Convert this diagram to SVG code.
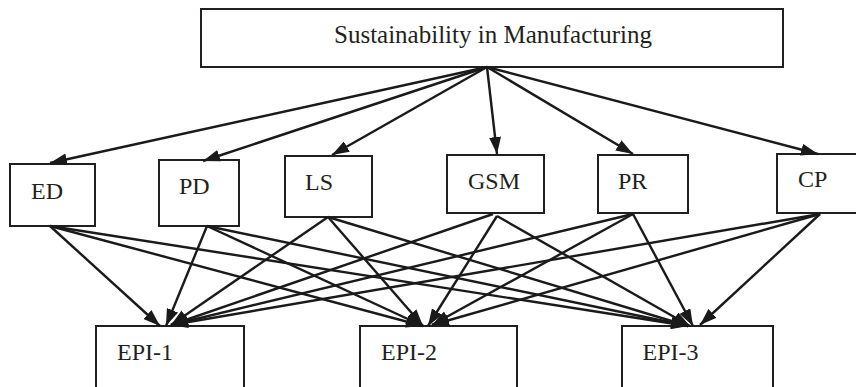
<svg xmlns="http://www.w3.org/2000/svg" width="856" height="387" viewBox="0 0 856 387">
<defs>
<style>
.box{fill:#fff;stroke:#231f20;stroke-width:2}
.lbl{font-family:"Liberation Serif","Times New Roman",serif;font-size:24px;fill:#231f20}
.ttl{font-size:25px}
.c line{stroke:#1a1a1a;stroke-width:2.4;marker-end:url(#ah)}
</style>
<marker id="ah" viewBox="0 0 17 12" refX="17" refY="6" markerWidth="17" markerHeight="12" markerUnits="userSpaceOnUse" orient="auto">
<path d="M0,0 L17,6 L0,12 z" fill="#1a1a1a"/>
</marker>
</defs>
<rect width="856" height="387" fill="#fff"/>
<g id="top"><rect class="box" x="201" y="9" width="582" height="58"/><text class="lbl ttl" x="334" y="43">Sustainability in Manufacturing</text></g>
<g id="ED"><rect class="box" x="10" y="164" width="85" height="62"/><text class="lbl" x="31" y="199">ED</text></g>
<g id="PD"><rect class="box" x="159" y="160" width="80" height="66"/><text class="lbl" x="179" y="194">PD</text></g>
<g id="LS"><rect class="box" x="285" y="156" width="87" height="61"/><text class="lbl" x="305" y="190">LS</text></g>
<g id="GSM"><rect class="box" x="447" y="155" width="97" height="58"/><text class="lbl" x="468" y="189">GSM</text></g>
<g id="PR"><rect class="box" x="598" y="155" width="90" height="58"/><text class="lbl" x="618" y="189">PR</text></g>
<g id="CP"><rect class="box" x="777" y="154" width="80" height="59"/><text class="lbl" x="798" y="187">CP</text></g>
<g id="EPI-1"><rect class="box" x="96" y="326" width="148" height="80"/><text class="lbl" x="117" y="360">EPI-1</text></g>
<g id="EPI-2"><rect class="box" x="360" y="326" width="157" height="80"/><text class="lbl" x="381" y="360">EPI-2</text></g>
<g id="EPI-3"><rect class="box" x="622" y="326" width="151" height="80"/><text class="lbl" x="642.5" y="360">EPI-3</text></g>
<g id="connectors" class="c">
<line x1="487" y1="67" x2="50" y2="163"/>
<line x1="487" y1="67" x2="203" y2="161"/>
<line x1="487" y1="67" x2="332" y2="155"/>
<line x1="487" y1="67" x2="497" y2="154"/>
<line x1="487" y1="67" x2="633" y2="154"/>
<line x1="487" y1="67" x2="818" y2="154"/>
<line x1="50" y1="226" x2="160" y2="326"/>
<line x1="50" y1="226" x2="423" y2="326"/>
<line x1="50" y1="226" x2="688" y2="326"/>
<line x1="207" y1="226" x2="166" y2="326"/>
<line x1="207" y1="226" x2="423" y2="326"/>
<line x1="207" y1="226" x2="688" y2="326"/>
<line x1="328" y1="217" x2="171" y2="325"/>
<line x1="328" y1="217" x2="423" y2="326"/>
<line x1="328" y1="217" x2="688" y2="326"/>
<line x1="493" y1="214" x2="171" y2="325"/>
<line x1="497" y1="216" x2="428" y2="326"/>
<line x1="497" y1="216" x2="690" y2="326"/>
<line x1="633" y1="214" x2="171" y2="325"/>
<line x1="633" y1="214" x2="432" y2="325"/>
<line x1="633" y1="214" x2="693" y2="326"/>
<line x1="820" y1="214" x2="171" y2="325"/>
<line x1="820" y1="214" x2="432" y2="325"/>
<line x1="820" y1="214" x2="700" y2="325"/>
</g>
</svg>
